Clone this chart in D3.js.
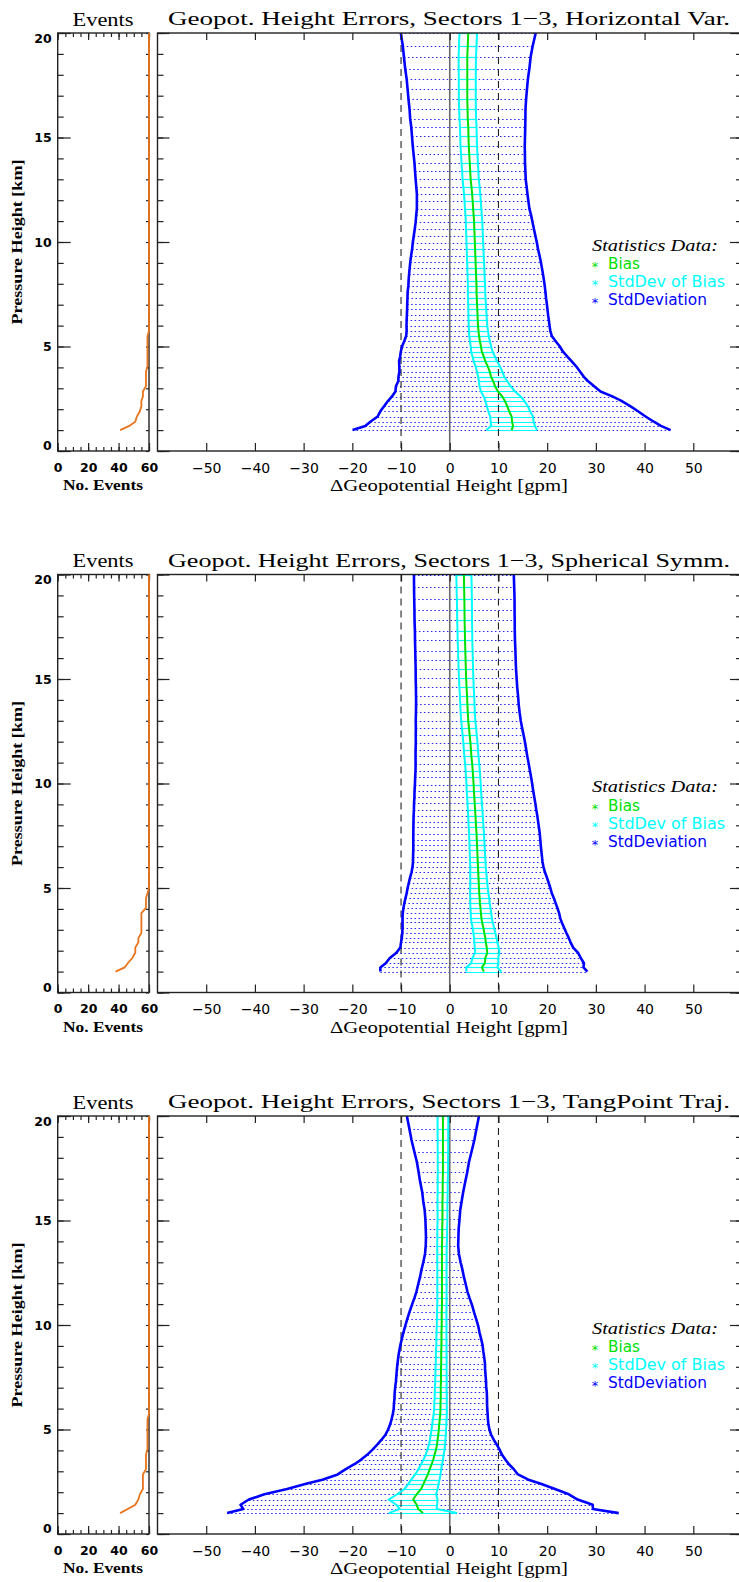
<!DOCTYPE html>
<html><head><meta charset="utf-8">
<script src="https://cdn.jsdelivr.net/npm/d3@7"></script>
<style>body{margin:0;background:#fff}svg{display:block}</style>
</head><body><svg id="c" width="739" height="1582"></svg>
<script>
// ---------------- DATA ----------------
const heights = [20.0, 19.4, 18.85, 18.3, 17.8, 17.3, 16.85, 16.35, 15.9, 15.5,
 15.05, 14.6, 14.2, 13.8, 13.4, 13.0, 12.65, 12.3, 11.95, 11.6,
 11.3, 10.95, 10.6, 10.3, 9.95, 9.65, 9.35, 9.05, 8.75, 8.45,
 8.15, 7.9, 7.6, 7.3, 7.05, 6.8, 6.5, 6.25, 6.0, 5.75,
 5.5, 5.25, 5.0, 4.75, 4.5, 4.3, 4.05, 3.8, 3.55, 3.35,
 3.1, 2.85, 2.6, 2.4, 2.15, 1.9, 1.65, 1.4, 1.2, 1.0];

const titles = [
 "Geopot. Height Errors, Sectors 1\u22123, Horizontal Var.",
 "Geopot. Height Errors, Sectors 1\u22123, Spherical Symm.",
 "Geopot. Height Errors, Sectors 1\u22123, TangPoint Traj."
];

const bias1 = [3.8, 3.7, 3.6, 3.6, 3.6, 3.6, 3.6, 3.65, 3.7, 3.8,
 3.85, 3.9, 4.0, 4.1, 4.2, 4.3, 4.45, 4.6, 4.7, 4.8,
 4.9, 5.0, 5.05, 5.1, 5.15, 5.2, 5.25, 5.3, 5.35, 5.4,
 5.45, 5.5, 5.5, 5.55, 5.6, 5.65, 5.7, 5.75, 5.8, 5.9,
 6.0, 6.2, 6.4, 6.6, 7.0, 7.3, 7.8, 8.2, 8.5, 8.9,
 9.3, 9.9, 10.8, 11.3, 11.8, 12.2, 12.7, 12.8, 13.0, 12.7];
const stddev1 = [13.85, 13.35, 13.0, 12.75, 12.45, 12.25, 12.08, 11.9, 11.83, 11.7,
 11.6, 11.5, 11.43, 11.35, 11.33, 11.3, 11.33, 11.35, 11.45, 11.55,
 11.78, 12.0, 12.25, 12.48, 12.75, 12.93, 13.18, 13.4, 13.58, 13.75,
 13.9, 14.0, 14.15, 14.23, 14.33, 14.4, 14.5, 14.6, 14.68, 14.75,
 14.95, 15.55, 16.2, 16.65, 17.2, 17.7, 18.15, 18.53, 19.03, 19.45,
 20.35, 21.05, 22.7, 23.95, 25.25, 26.45, 27.5, 29.1, 30.35, 32.65];
const sdbias1 = [1.8, 1.8, 1.78, 1.76, 1.75, 1.74, 1.73, 1.72, 1.71, 1.7,
 1.7, 1.69, 1.68, 1.68, 1.67, 1.67, 1.67, 1.67, 1.67, 1.68,
 1.68, 1.69, 1.7, 1.7, 1.71, 1.72, 1.72, 1.73, 1.74, 1.75,
 1.76, 1.77, 1.78, 1.8, 1.82, 1.84, 1.86, 1.88, 1.9, 1.95,
 2.0, 2.05, 2.1, 2.2, 2.3, 2.4, 2.5, 2.6, 2.7, 2.9,
 3.2, 3.5, 3.8, 4.0, 4.2, 4.3, 4.4, 4.4, 4.5, 5.2];
const events1 = [60, 60, 60, 60, 60, 60, 60, 60, 60, 60,
 60, 60, 60, 60, 60, 60, 60, 60, 60, 60,
 60, 60, 60, 60, 60, 60, 60, 60, 60, 60,
 60, 60, 60, 60, 60, 60, 60, 60, 60, 60,
 59, 59, 59, 59, 59, 59, 59, 58, 58, 58,
 58, 56, 56, 55, 55, 54, 52, 51, 47, 41];

const bias2 = [2.9, 2.95, 3.0, 3.03, 3.05, 3.1, 3.13, 3.2, 3.25, 3.3,
 3.37, 3.45, 3.55, 3.62, 3.7, 3.8, 3.95, 4.1, 4.25, 4.35,
 4.45, 4.6, 4.72, 4.8, 4.9, 4.95, 5.05, 5.12, 5.2, 5.28,
 5.35, 5.42, 5.5, 5.55, 5.6, 5.65, 5.7, 5.75, 5.8, 5.85,
 5.9, 5.95, 6.0, 6.05, 6.15, 6.2, 6.3, 6.4, 6.5, 6.65,
 6.9, 7.1, 7.3, 7.4, 7.6, 7.7, 7.3, 7.2, 6.6, 7.0];
const stddev2 = [10.25, 10.28, 10.3, 10.28, 10.28, 10.25, 10.26, 10.28, 10.29, 10.3,
 10.36, 10.4, 10.47, 10.53, 10.64, 10.78, 10.91, 11.08, 11.22, 11.36,
 11.47, 11.61, 11.75, 11.9, 12.05, 12.18, 12.3, 12.45, 12.56, 12.7,
 12.8, 12.89, 12.98, 13.04, 13.08, 13.14, 13.23, 13.3, 13.45, 13.7,
 14.05, 14.35, 14.65, 14.9, 15.25, 15.5, 15.8, 16.05, 16.2, 16.35,
 16.58, 16.85, 17.15, 17.4, 17.75, 18.65, 19.6, 20.35, 20.85, 21.25];
const sdbias2 = [1.55, 1.55, 1.54, 1.53, 1.52, 1.51, 1.5, 1.5, 1.49, 1.48,
 1.48, 1.47, 1.47, 1.46, 1.46, 1.45, 1.45, 1.45, 1.45, 1.45,
 1.45, 1.45, 1.45, 1.46, 1.46, 1.47, 1.47, 1.48, 1.49, 1.5,
 1.51, 1.52, 1.53, 1.54, 1.55, 1.56, 1.57, 1.59, 1.6, 1.65,
 1.7, 1.75, 1.8, 1.88, 1.95, 2.0, 2.05, 2.1, 2.15, 2.18,
 2.2, 2.25, 2.3, 2.38, 2.45, 2.5, 2.65, 2.8, 3.2, 3.6];
const events2 = [60, 60, 60, 60, 60, 60, 60, 60, 60, 60,
 60, 60, 60, 60, 60, 60, 60, 60, 60, 60,
 60, 60, 60, 60, 60, 60, 60, 60, 60, 60,
 60, 60, 60, 60, 60, 60, 60, 60, 60, 60,
 60, 60, 60, 59, 58, 58, 58, 55, 55, 55,
 55, 55, 53, 53, 51, 51, 49, 46, 44, 38];

const bias3 = [-1.4, -1.4, -1.4, -1.4, -1.4, -1.4, -1.45, -1.45, -1.5, -1.5,
 -1.5, -1.55, -1.55, -1.6, -1.6, -1.6, -1.6, -1.6, -1.6, -1.6,
 -1.6, -1.6, -1.65, -1.65, -1.65, -1.7, -1.7, -1.7, -1.75, -1.75,
 -1.75, -1.8, -1.8, -1.8, -1.85, -1.85, -1.85, -1.9, -1.9, -1.95,
 -2.05, -2.15, -2.25, -2.35, -2.5, -2.6, -2.8, -3.1, -3.4, -3.7,
 -4.1, -4.5, -5.0, -5.4, -5.9, -6.8, -7.5, -6.8, -6.5, -5.5];
const stddev3 = [7.4, 6.9, 6.45, 5.88, 5.35, 4.98, 4.63, 4.2, 3.93, 3.65,
 3.5, 3.38, 3.33, 3.33, 3.48, 3.83, 4.2, 4.5, 4.88, 5.23,
 5.65, 6.18, 6.65, 7.05, 7.5, 7.8, 8.13, 8.43, 8.63, 8.83,
 8.98, 9.05, 9.15, 9.25, 9.33, 9.45, 9.5, 9.55, 9.6, 9.73,
 9.88, 10.08, 10.4, 10.85, 11.55, 12.2, 13.0, 13.8, 14.85, 15.8,
 17.25, 18.5, 21.15, 24.1, 27.5, 31.25, 33.75, 36.15, 35.9, 40.2];
const sdbias3 = [1.1, 1.1, 1.08, 1.07, 1.06, 1.05, 1.04, 1.03, 1.02, 1.01,
 1.0, 1.0, 1.0, 0.98, 0.97, 0.96, 0.95, 0.95, 0.95, 0.95,
 0.95, 0.96, 0.97, 0.98, 1.0, 1.02, 1.04, 1.06, 1.08, 1.1,
 1.12, 1.14, 1.16, 1.18, 1.2, 1.22, 1.25, 1.28, 1.3, 1.35,
 1.4, 1.45, 1.5, 1.55, 1.6, 1.65, 1.75, 1.85, 2.0, 2.15,
 2.35, 2.6, 2.9, 3.1, 3.4, 4.0, 5.0, 4.2, 3.8, 7.0];
const events3 = [60, 60, 60, 60, 60, 60, 60, 60, 60, 60,
 60, 60, 60, 60, 60, 60, 60, 60, 60, 60,
 60, 60, 60, 60, 60, 60, 60, 60, 60, 60,
 60, 60, 60, 60, 60, 60, 60, 60, 60, 60,
 59, 59, 59, 59, 59, 59, 59, 58, 58, 58,
 58, 56, 56, 56, 56, 54, 53, 51, 46, 41];

const kmTicks = [0, 5, 10, 15, 20];
const kmMinor = [0,1,2,3,4,5,6,7,8,9,10,11,12,13,14,15,16,17,18,19,20];
const eventTicks = [0, 20, 40, 60];
const eventMinor = [0,5,10,15,20,25,30,35,40,45,50,55,60];
const dghTicks = [-50, -40, -30, -20, -10, 0, 10, 20, 30, 40, 50];
const refDashed = [-10, 10];
const legendTitle = "Statistics Data:";
const legendLabels = ["Bias", "StdDev of Bias", "StdDeviation"];

// ---------------- DRAW ----------------
const COL = {bias:"#00e000", sdb:"#00ffff", std:"#0000ff", ev:"#e8741c", dots:"#2626ff"};
const legendColors = [COL.bias, COL.sdb, COL.std];
const legendWidths = [32, 117, 99];
const panels = [
 {title:titles[0], bias:bias1, sdb:sdbias1, std:stddev1, ev:events1},
 {title:titles[1], bias:bias2, sdb:sdbias2, std:stddev2, ev:events2},
 {title:titles[2], bias:bias3, sdb:sdbias3, std:stddev3, ev:events3}
];
const tops = [33, 574.5, 1116];
const PH = 418;
const svg = d3.select("#c");
const SERIF = "'Liberation Serif','DejaVu Serif',serif";
const SANS = "'DejaVu Sans','Liberation Sans',sans-serif";

function styleAxis(sel, font, size, weight) {
  sel.select(".domain").remove();
  sel.selectAll(".tick line").attr("stroke", "#222").attr("stroke-width", 1.2);
  sel.selectAll(".tick text").attr("font-family", font).attr("font-size", size)
     .attr("font-weight", weight).attr("fill", "#000");
}

panels.forEach((p, i) => {
  const top = tops[i], bot = top + PH;
  const y = d3.scaleLinear().domain([0, 20]).range([bot, top]);
  const xe = d3.scaleLinear().domain([0, 60]).range([57.7, 149]);
  const xm = d3.scaleLinear().domain([-60, 60]).range([157.5, 742]);
  const g = svg.append("g");
  const rows = heights.map((h, k) => ({h, b: p.bias[k], s: p.sdb[k], d: p.std[k], e: p.ev[k]}));

  // dotted fill between bias-std and bias+std
  g.append("g").selectAll("line").data(rows).join("line")
    .attr("x1", r => xm(r.b - r.d)).attr("x2", r => xm(r.b + r.d))
    .attr("y1", r => Math.round(y(r.h)) + 0.5).attr("y2", r => Math.round(y(r.h)) + 0.5)
    .attr("stroke", COL.dots).attr("stroke-width", 1).attr("stroke-dasharray", "1.5,2.5");

  // cyan rungs between bias-sdb and bias+sdb
  g.append("g").selectAll("line").data(rows).join("line")
    .attr("x1", r => xm(r.b - r.s)).attr("x2", r => xm(r.b + r.s))
    .attr("y1", r => Math.round(y(r.h)) + 0.5).attr("y2", r => Math.round(y(r.h)) + 0.5)
    .attr("stroke", COL.sdb).attr("stroke-width", 1.2);

  // reference lines
  g.append("line").attr("x1", xm(0)).attr("x2", xm(0)).attr("y1", top).attr("y2", bot)
    .attr("stroke", "#6a6a6a").attr("stroke-width", 1.6);
  g.append("g").selectAll("line").data(refDashed).join("line")
    .attr("x1", d => xm(d)).attr("x2", d => xm(d)).attr("y1", top).attr("y2", bot)
    .attr("stroke", "#222").attr("stroke-width", 1.1).attr("stroke-dasharray", "7,5");

  const line = (fx) => d3.line().x(fx).y(r => y(r.h))(rows);
  // cyan edges
  g.append("path").attr("d", line(r => xm(r.b - r.s))).attr("fill", "none").attr("stroke", COL.sdb).attr("stroke-width", 2);
  g.append("path").attr("d", line(r => xm(r.b + r.s))).attr("fill", "none").attr("stroke", COL.sdb).attr("stroke-width", 2);
  // bias
  g.append("path").attr("d", line(r => xm(r.b))).attr("fill", "none").attr("stroke", COL.bias).attr("stroke-width", 2);
  // std dev edges
  g.append("path").attr("d", line(r => xm(r.b - r.d))).attr("fill", "none").attr("stroke", COL.std).attr("stroke-width", 2.6).attr("stroke-linejoin", "round");
  g.append("path").attr("d", line(r => xm(r.b + r.d))).attr("fill", "none").attr("stroke", COL.std).attr("stroke-width", 2.6).attr("stroke-linejoin", "round");

  // ---- main panel axes ----
  g.append("rect").attr("x", xm(-60)).attr("y", top).attr("width", xm(60) - xm(-60)).attr("height", PH)
    .attr("fill", "none").attr("stroke", "#222").attr("stroke-width", 1.4);
  g.append("g").attr("transform", `translate(${xm(-60)},0)`)
    .call(d3.axisLeft(y).tickValues(kmMinor).tickSize(-6).tickFormat("")).call(s => styleAxis(s));
  g.append("g").attr("transform", `translate(${xm(-60)},0)`)
    .call(d3.axisLeft(y).tickValues(kmTicks).tickSize(-12).tickFormat("")).call(s => styleAxis(s));
  g.append("g").attr("transform", `translate(${xm(60)},0)`)
    .call(d3.axisRight(y).tickValues(kmMinor).tickSize(-6).tickFormat("")).call(s => styleAxis(s));
  g.append("g").attr("transform", `translate(${xm(60)},0)`)
    .call(d3.axisRight(y).tickValues(kmTicks).tickSize(-12).tickFormat("")).call(s => styleAxis(s));
  g.append("g").attr("transform", `translate(0,${top})`)
    .call(d3.axisTop(xm).tickValues(dghTicks).tickSize(-7).tickFormat("")).call(s => styleAxis(s));
  g.append("g").attr("transform", `translate(0,${bot})`)
    .call(d3.axisBottom(xm).tickValues(dghTicks).tickSize(-8).tickPadding(12))
    .call(s => styleAxis(s, SANS, 14, "normal"));

  // ---- events panel ----
  g.append("rect").attr("x", xe(0)).attr("y", top).attr("width", xe(60) - xe(0)).attr("height", PH)
    .attr("fill", "none").attr("stroke", "#222").attr("stroke-width", 1.4);
  g.append("g").attr("transform", `translate(${xe(0)},0)`)
    .call(d3.axisLeft(y).tickValues(kmMinor).tickSize(-6).tickFormat("")).call(s => styleAxis(s));
  g.append("g").attr("transform", `translate(${xe(0)},0)`)
    .call(d3.axisLeft(y).tickValues(kmTicks).tickSize(-13).tickPadding(6))
    .call(s => {
      styleAxis(s, SANS, 12.5, "bold");
      s.selectAll(".tick text").attr("dy", d => d === 20 ? "0.75em" : d === 0 ? "-0.1em" : "0.32em");
    });
  g.append("g").attr("transform", `translate(${xe(60)},0)`)
    .call(d3.axisRight(y).tickValues(kmMinor).tickSize(-3).tickFormat("")).call(s => styleAxis(s));
  g.append("g").attr("transform", `translate(0,${top})`)
    .call(d3.axisTop(xe).tickValues(eventMinor).tickSize(-4).tickFormat("")).call(s => styleAxis(s));
  g.append("g").attr("transform", `translate(0,${top})`)
    .call(d3.axisTop(xe).tickValues(eventTicks).tickSize(-7).tickFormat("")).call(s => styleAxis(s));
  g.append("g").attr("transform", `translate(0,${bot})`)
    .call(d3.axisBottom(xe).tickValues(eventMinor).tickSize(-4).tickFormat("")).call(s => styleAxis(s));
  g.append("g").attr("transform", `translate(0,${bot})`)
    .call(d3.axisBottom(xe).tickValues(eventTicks).tickSize(-8).tickPadding(12))
    .call(s => styleAxis(s, SANS, 12.5, "bold"));

  // events curve
  g.append("path").attr("d", d3.line().x(r => xe(r.e)).y(r => y(r.h))(rows))
    .attr("fill", "none").attr("stroke", COL.ev).attr("stroke-width", 1.8);

  // ---- texts ----
  g.append("text").attr("x", 103).attr("y", top - 7.5).attr("text-anchor", "middle")
    .attr("font-family", SERIF).attr("font-size", 19).attr("textLength", 61).attr("lengthAdjust", "spacingAndGlyphs")
    .text("Events");
  g.append("text").attr("x", 168).attr("y", top - 8).attr("font-family", SERIF).attr("font-size", 19.5)
    .attr("textLength", 562).attr("lengthAdjust", "spacingAndGlyphs").text(p.title);
  g.append("text").attr("x", 103).attr("y", bot + 39).attr("text-anchor", "middle")
    .attr("font-family", SERIF).attr("font-size", 14).attr("font-weight", "bold")
    .attr("textLength", 80).attr("lengthAdjust", "spacingAndGlyphs").text("No. Events");
  g.append("text").attr("x", 449).attr("y", bot + 40).attr("text-anchor", "middle")
    .attr("font-family", SERIF).attr("font-size", 16)
    .attr("textLength", 238).attr("lengthAdjust", "spacingAndGlyphs").text("\u0394Geopotential Height [gpm]");
  g.append("text").attr("transform", `translate(22,${top + PH / 2}) rotate(-90)`).attr("text-anchor", "middle")
    .attr("font-family", SERIF).attr("font-size", 14).attr("font-weight", "bold")
    .attr("textLength", 165).attr("lengthAdjust", "spacingAndGlyphs").text("Pressure Height [km]");

  // legend
  g.append("text").attr("x", 592).attr("y", top + 217.5).attr("font-family", SERIF).attr("font-style", "italic")
    .attr("font-size", 16).attr("textLength", 126).attr("lengthAdjust", "spacingAndGlyphs").text(legendTitle);
  const lg = g.append("g").selectAll("g").data(legendLabels).join("g")
    .attr("transform", (d, k) => `translate(0,${top + 236 + k * 18})`);
  lg.append("text").attr("x", 595).attr("y", 2).attr("text-anchor", "middle").attr("font-family", SANS).attr("font-size", 13)
    .attr("fill", (d, k) => legendColors[k]).text("*");
  lg.append("text").attr("x", 608).attr("y", 0).attr("font-family", SANS).attr("font-size", 15)
    .attr("textLength", (d, k) => legendWidths[k]).attr("lengthAdjust", "spacingAndGlyphs")
    .attr("fill", (d, k) => legendColors[k]).text(d => d);
});
</script>
</body></html>
